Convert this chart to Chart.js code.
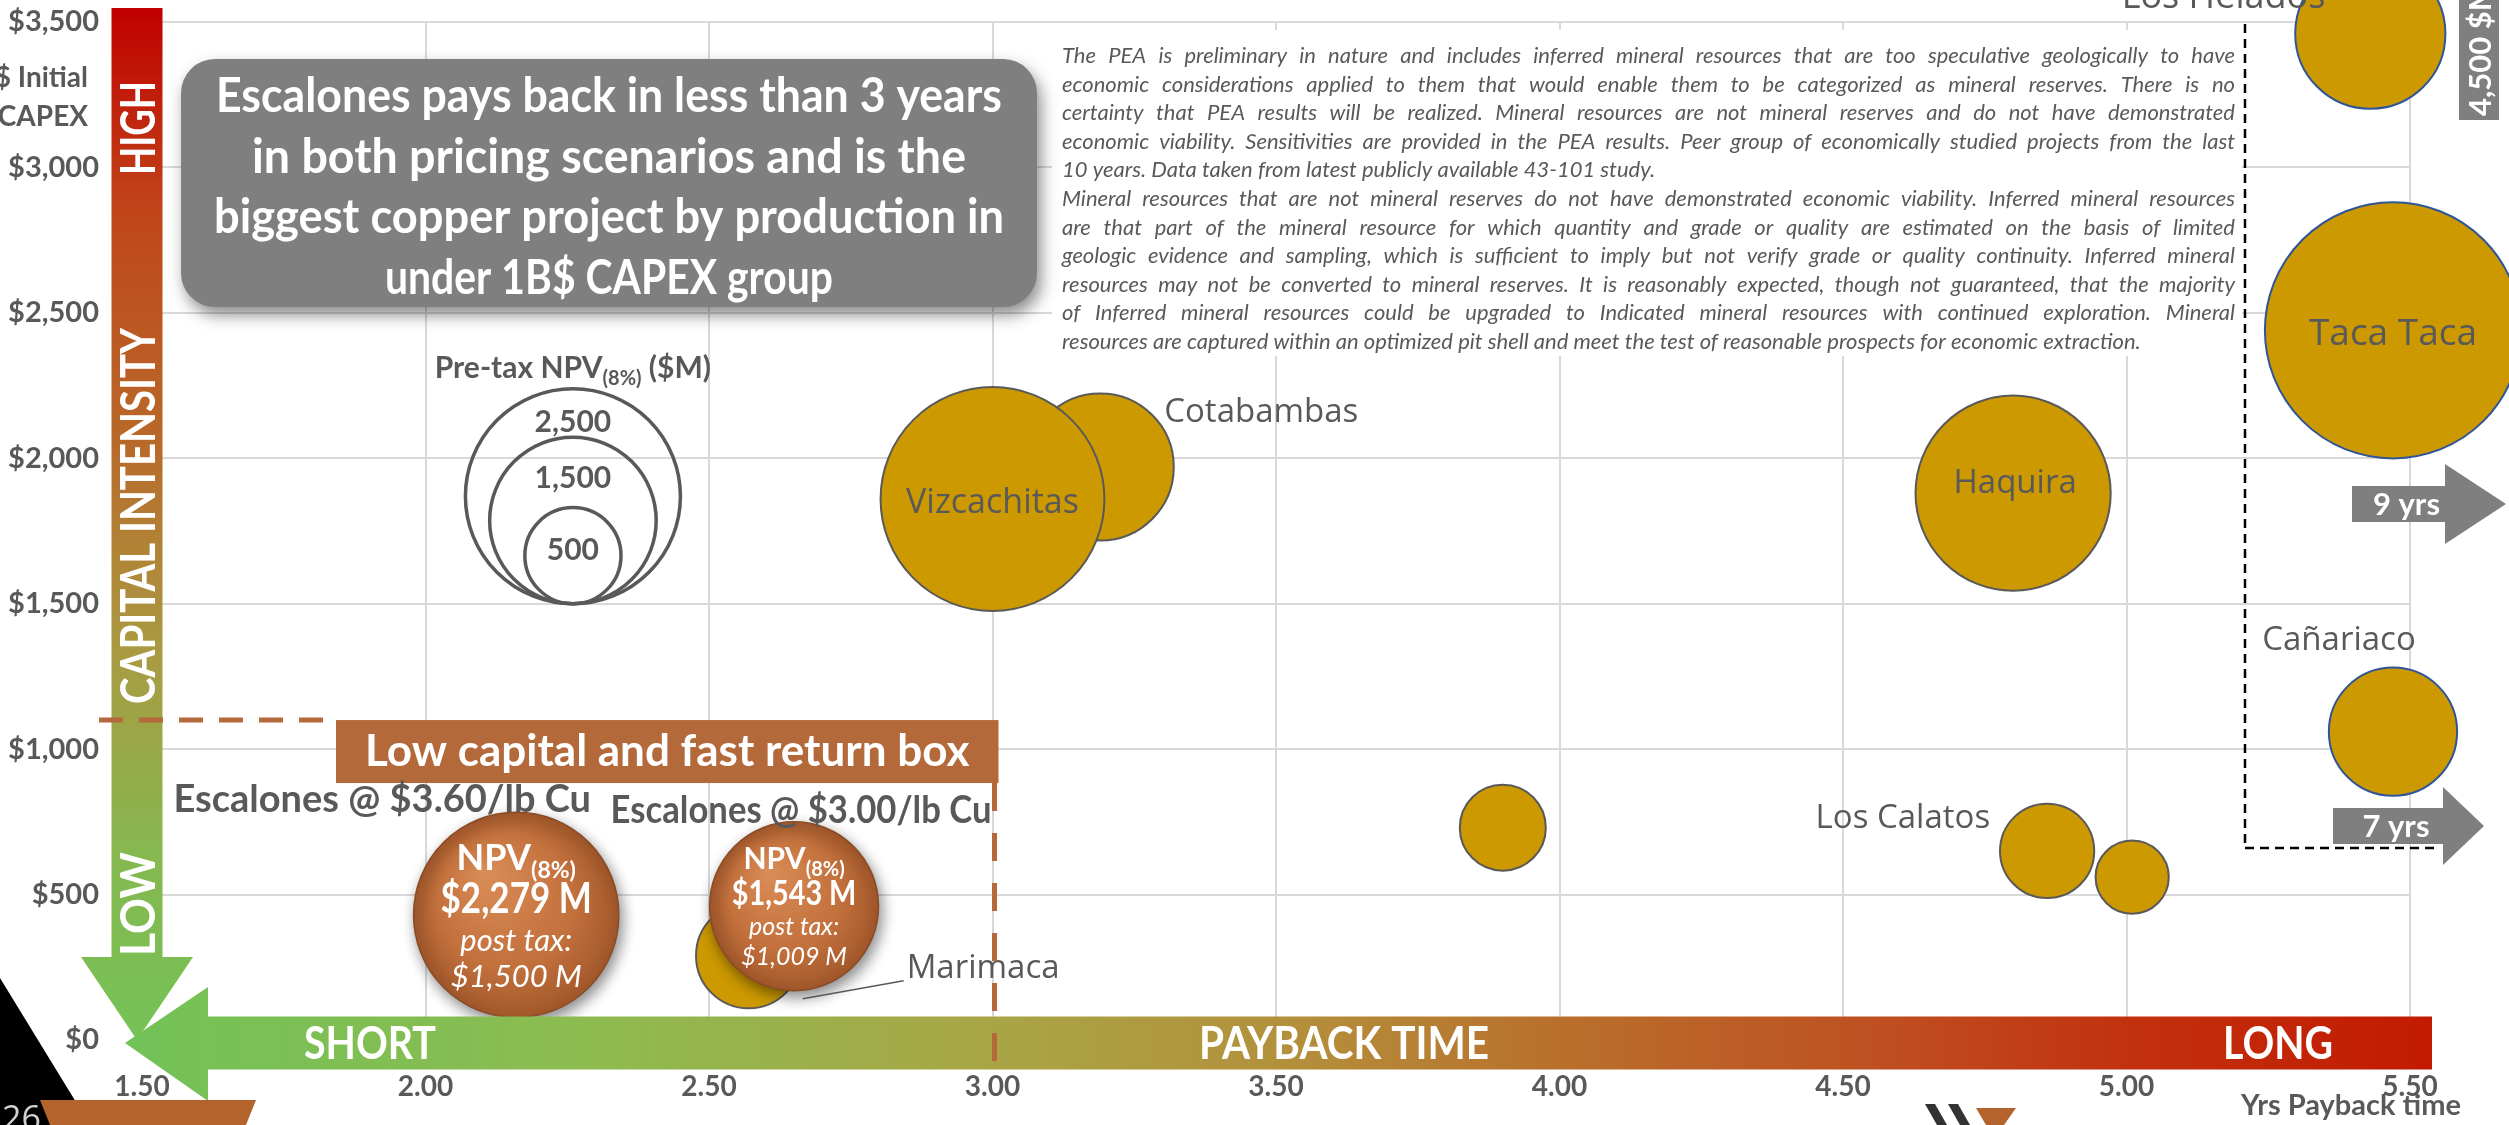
<!DOCTYPE html>
<html>
<head>
<meta charset="utf-8">
<script src="https://cdn.jsdelivr.net/npm/chart.js@4.4.1/dist/chart.umd.min.js"></script>
<style>
html, body { margin: 0; padding: 0; background: #fff; overflow: hidden; }
canvas { display: block; }
</style>
</head>
<body>
<canvas id="myChart" width="2509" height="1125"></canvas>
<script>
'use strict';

// Escalones scenarios: payback (yrs), initial capex ($M), pre-tax NPV8 ($M), post-tax NPV ($M)
const escalonesPrice = ['$3.60/lb Cu', '$3.00/lb Cu'];
const escalonesPayback = [2.16, 2.65];
const escalonesCapex = [430, 460];
const escalonesNpv = [2279, 1543];
const escalonesPostTax = [1500, 1009];

// peer group
const peerNames = ['Cotabambas', 'Vizcachitas', 'Haquira', '', 'Los Calatos', '', 'Marimaca'];
const peerPayback = [3.19, 3.00, 4.80, 3.90, 4.86, 5.01, 2.57];
const peerCapex = [1970, 1860, 1880, 730, 650, 560, 290];
const peerNpv = [1170, 2710, 2060, 400, 480, 290, 600];

// projects whose payback/capex runs off the scale
const farNames = ['Los Helados', 'Taca Taca', 'Cañariaco'];
const farPayback = [5.43, 5.47, 5.47];
const farCapex = [3460, 2440, 1060];
const farNpv = [1220, 3550, 890];
const farNotes = ['4,500 $M', '9 yrs', '7 yrs'];

const legendNpv = [2500, 1500, 500];
const xTickRange = [1.5, 5.5, 0.5];
const yTickRange = [0, 3500, 500];

const disclaimer = [
  'The PEA is preliminary in nature and includes inferred mineral resources that are too speculative geologically to have',
  'economic considerations applied to them that would enable them to be categorized as mineral reserves. There is no',
  'certainty that PEA results will be realized. Mineral resources are not mineral reserves and do not have demonstrated',
  'economic viability. Sensitivities are provided in the PEA results. Peer group of economically studied projects from the last',
  '10 years. Data taken from latest publicly available 43-101 study.',
  'Mineral resources that are not mineral reserves do not have demonstrated economic viability. Inferred mineral resources',
  'are that part of the mineral resource for which quantity and grade or quality are estimated on the basis of limited',
  'geologic evidence and sampling, which is sufficient to imply but not verify grade or quality continuity. Inferred mineral',
  'resources may not be converted to mineral reserves. It is reasonably expected, though not guaranteed, that the majority',
  'of Inferred mineral resources could be upgraded to Indicated mineral resources with continued exploration. Mineral',
  'resources are captured within an optimized pit shell and meet the test of reasonable prospects for economic extraction.'
];
const disclaimerLeftAligned = [4, 10];

const headline = [
  'Escalones pays back in less than 3 years',
  'in both pricing scenarios and is the',
  'biggest copper project by production in',
  'under 1B$ CAPEX group'
];

const GRAY = '#595959';
const BOLD = 'Lato, "DejaVu Sans", sans-serif';
const rOf = v => 2.15 * Math.sqrt(v);

function pts(xs, ys) { return xs.map((x, i) => ({ x: x, y: ys[i] })); }

function txt(ctx, s, x, y, font, color, align, w) {
  ctx.font = font;
  ctx.fillStyle = color;
  ctx.textAlign = align || 'center';
  ctx.textBaseline = 'middle';
  if (w) ctx.fillText(s, x, y, w); else ctx.fillText(s, x, y);
}

// "NPV(8%)" style text with subscript, centred on x
function subText(ctx, a, b, c, x, y, size, color) {
  ctx.fillStyle = color;
  ctx.textBaseline = 'alphabetic';
  ctx.textAlign = 'left';
  ctx.font = 'bold ' + size + 'px ' + BOLD;
  const wa = ctx.measureText(a).width, wc = ctx.measureText(c).width;
  ctx.font = 'bold ' + Math.round(size * 0.65) + 'px ' + BOLD;
  const wb = ctx.measureText(b).width;
  let cx = x - (wa + wb + wc) / 2;
  const base = y + size * 0.35;
  ctx.font = 'bold ' + size + 'px ' + BOLD;
  ctx.fillText(a, cx, base);
  cx += wa;
  ctx.font = 'bold ' + Math.round(size * 0.65) + 'px ' + BOLD;
  ctx.fillText(b, cx, base + size * 0.22);
  cx += wb;
  ctx.font = 'bold ' + size + 'px ' + BOLD;
  ctx.fillText(c, cx, base);
}

function justify(ctx, line, x, y, w) {
  const words = line.split(' ');
  const widths = words.map(wd => ctx.measureText(wd).width);
  const total = widths.reduce((s, v) => s + v, 0);
  const gap = (w - total) / (words.length - 1);
  if (gap < ctx.measureText(' ').width * 0.6) { ctx.fillText(line, x, y, w); return; }
  let cx = x;
  words.forEach((wd, i) => { ctx.fillText(wd, cx, y); cx += widths[i] + gap; });
}

function dashed(ctx, x1, y1, x2, y2, color, width, dash) {
  ctx.save();
  ctx.strokeStyle = color;
  ctx.lineWidth = width;
  ctx.setLineDash(dash);
  ctx.beginPath();
  ctx.moveTo(x1, y1);
  ctx.lineTo(x2, y2);
  ctx.stroke();
  ctx.restore();
}

function grayArrow(ctx, x1, x2, tip, yc, hb, hh, label) {
  ctx.fillStyle = '#7f7f7f';
  ctx.beginPath();
  ctx.moveTo(x1, yc - hb);
  ctx.lineTo(x2, yc - hb);
  ctx.lineTo(x2, yc - hh);
  ctx.lineTo(tip, yc);
  ctx.lineTo(x2, yc + hh);
  ctx.lineTo(x2, yc + hb);
  ctx.lineTo(x1, yc + hb);
  ctx.closePath();
  ctx.fill();
  txt(ctx, label, (x1 + x2) / 2 + 8, yc + 1, 'bold 31px ' + BOLD, '#fff');
}

function roundRect(ctx, x, y, w, h, r) {
  ctx.beginPath();
  ctx.moveTo(x + r, y);
  ctx.arcTo(x + w, y, x + w, y + h, r);
  ctx.arcTo(x + w, y + h, x, y + h, r);
  ctx.arcTo(x, y + h, x, y, r);
  ctx.arcTo(x, y, x + w, y, r);
  ctx.closePath();
}

const shadowPlugin = {
  id: 'shadow',
  beforeDatasetDraw(chart, args) {
    if (args.index !== 0) return;
    const ctx = chart.ctx;
    ctx.save();
    ctx.shadowColor = 'rgba(0,0,0,0.45)';
    ctx.shadowBlur = 14;
    ctx.shadowOffsetX = 3;
    ctx.shadowOffsetY = 6;
  },
  afterDatasetDraw(chart, args) {
    if (args.index === 0) chart.ctx.restore();
  }
};

const decoPlugin = {
  id: 'deco',
  beforeDraw(chart) {
    const ctx = chart.ctx;
    ctx.save();
    ctx.fillStyle = '#fff';
    ctx.fillRect(0, 0, chart.width, chart.height);
    ctx.restore();
  },
  beforeDatasetsDraw(chart) {
    const ctx = chart.ctx, xs = chart.scales.x, ys = chart.scales.y;
    ctx.save();
    // disclaimer panel
    ctx.fillStyle = '#fff';
    ctx.fillRect(1052, 30, 1190, 326);
    ctx.font = 'italic 22px Lato, "Open Sans", sans-serif';
    ctx.fillStyle = GRAY;
    ctx.textAlign = 'left';
    ctx.textBaseline = 'middle';
    disclaimer.forEach((line, i) => {
      const y = 56 + i * 28.6;
      if (disclaimerLeftAligned.indexOf(i) >= 0) ctx.fillText(line, 1062, y, 1173);
      else justify(ctx, line, 1062, y, 1173);
    });

    // dashed frame round the off-scale projects
    dashed(ctx, 2245, 24, 2245, 848, '#000', 2.5, [9, 6]);
    dashed(ctx, 2245, 848, 2440, 848, '#000', 2.5, [9, 6]);

    // NPV size legend
    const lx = xs.getPixelForValue(2.26), lb = ys.getPixelForValue(1500);
    legendNpv.forEach(v => {
      const r = rOf(v);
      ctx.beginPath();
      ctx.arc(lx, lb - r, r, 0, Math.PI * 2);
      ctx.strokeStyle = GRAY;
      ctx.lineWidth = 3.5;
      ctx.stroke();
    });
    subText(ctx, 'Pre-tax NPV', '(8%)', ' ($M)', lx, lb - 236, 30, GRAY);
    txt(ctx, legendNpv[0].toLocaleString('en-US'), lx, lb - 181, 'bold 30px ' + BOLD, GRAY);
    txt(ctx, legendNpv[1].toLocaleString('en-US'), lx, lb - 125, 'bold 30px ' + BOLD, GRAY);
    txt(ctx, legendNpv[2].toLocaleString('en-US'), lx, lb - 53, 'bold 30px ' + BOLD, GRAY);
    ctx.restore();
  },
  afterDatasetsDraw(chart) {
    const ctx = chart.ctx, area = chart.chartArea;
    const xs = chart.scales.x, ys = chart.scales.y;
    const esc = chart.getDatasetMeta(0).data;
    const peer = chart.getDatasetMeta(1).data;
    const far = chart.getDatasetMeta(2).data;
    const x0 = area.left, y0 = area.bottom;
    ctx.save();

    // bubble labels
    const lab = '33px "Open Sans", sans-serif';
    txt(ctx, peerNames[0], peer[0].x + 64, peer[0].y - 54, lab, GRAY, 'left');
    txt(ctx, peerNames[1], peer[1].x, peer[1].y + 4, '34px "Open Sans", sans-serif', GRAY);
    txt(ctx, peerNames[2], peer[2].x + 2, peer[2].y - 10, lab, GRAY);
    txt(ctx, peerNames[4], peer[4].x - 57, peer[4].y - 32, lab, GRAY, 'right');
    txt(ctx, farNames[0], far[0].x - 45, far[0].y - 36, '36px "Open Sans", sans-serif', GRAY, 'right');
    txt(ctx, farNames[1], far[1].x, far[1].y + 4, '37px "Open Sans", sans-serif', GRAY);
    txt(ctx, farNames[2], far[2].x - 54, far[2].y - 91, lab, GRAY);

    // Marimaca leader
    const m = peer[6];
    ctx.strokeStyle = GRAY;
    ctx.lineWidth = 1.5;
    ctx.beginPath();
    ctx.moveTo(m.x + 54, m.y + 43);
    ctx.lineTo(m.x + 155, m.y + 25);
    ctx.stroke();
    txt(ctx, peerNames[6], m.x + 158, m.y + 13, lab, GRAY, 'left');

    // capital intensity arrow (vertical)
    const cx = x0 - 5;
    let g = ctx.createLinearGradient(0, 8, 0, y0);
    g.addColorStop(0, '#c00000');
    g.addColorStop(0.2, '#c0461a');
    g.addColorStop(0.42, '#b8692a');
    g.addColorStop(0.62, '#aa9a42');
    g.addColorStop(0.82, '#86b850');
    g.addColorStop(1, '#74c256');
    ctx.fillStyle = g;
    ctx.beginPath();
    ctx.moveTo(cx - 25.5, 8);
    ctx.lineTo(cx + 25.5, 8);
    ctx.lineTo(cx + 25.5, y0 - 83);
    ctx.lineTo(cx + 56, y0 - 83);
    ctx.lineTo(cx, y0);
    ctx.lineTo(cx - 56, y0 - 83);
    ctx.lineTo(cx - 25.5, y0 - 83);
    ctx.closePath();
    ctx.fill();
    [['HIGH', 128, 94], ['CAPITAL INTENSITY', 516, 376], ['LOW', 904, 104]].forEach(t => {
      ctx.save();
      ctx.translate(cx + 3, t[1]);
      ctx.rotate(-Math.PI / 2);
      txt(ctx, t[0], 0, 0, 'bold 47px ' + BOLD, '#fff', 'center', t[2]);
      ctx.restore();
    });

    // payback time arrow (horizontal)
    const hy = y0 + 3, hb = 26.5;
    g = ctx.createLinearGradient(125, 0, 2432, 0);
    g.addColorStop(0, '#72c257');
    g.addColorStop(0.2, '#8dbb50');
    g.addColorStop(0.37, '#a8a646');
    g.addColorStop(0.5, '#b3913c');
    g.addColorStop(0.62, '#b9702c');
    g.addColorStop(0.75, '#be5222');
    g.addColorStop(0.87, '#c2310f');
    g.addColorStop(1, '#c21a00');
    ctx.fillStyle = g;
    ctx.beginPath();
    ctx.moveTo(x0 - 17, hy);
    ctx.lineTo(208, hy - 56);
    ctx.lineTo(208, hy - hb);
    ctx.lineTo(area.right + 22, hy - hb);
    ctx.lineTo(area.right + 22, hy + hb);
    ctx.lineTo(208, hy + hb);
    ctx.lineTo(208, hy + 58);
    ctx.closePath();
    ctx.fill();
    txt(ctx, 'SHORT', 370, hy + 1, 'bold 46px ' + BOLD, '#fff', 'center', 132);
    txt(ctx, 'PAYBACK TIME', 1344, hy + 1, 'bold 46px ' + BOLD, '#fff', 'center', 290);
    txt(ctx, 'LONG', 2278, hy + 1, 'bold 46px ' + BOLD, '#fff', 'center', 110);

    // low capital / fast return box
    const bx = xs.getPixelForValue(3.0), by = ys.getPixelForValue(1100);
    ctx.fillStyle = '#b4693a';
    ctx.fillRect(336, by, bx + 6 - 336, 63);
    txt(ctx, 'Low capital and fast return box', (336 + bx + 6) / 2, by + 32, 'bold 44px ' + BOLD, '#fff', 'center', 620);
    dashed(ctx, 99, by, 336, by, '#b4693a', 5, [24, 16]);
    dashed(ctx, bx + 2, by + 63, bx + 2, y0 + 24, '#b4693a', 5, [28, 22]);

    // Escalones headers + NPV text inside the bubbles
    const hdr = 'bold 38px ' + BOLD;
    txt(ctx, 'Escalones @ ' + escalonesPrice[0], esc[0].x - 134, esc[0].y - 115, hdr, GRAY, 'center', 422);
    txt(ctx, 'Escalones @ ' + escalonesPrice[1], esc[1].x + 7, esc[1].y - 95, hdr, GRAY, 'center', 381);
    esc.forEach((el, i) => {
      const r = rOf(escalonesNpv[i]), f = r / 103;
      subText(ctx, 'NPV', '(8%)', '', el.x, el.y - r * 0.56, Math.round(36 * f), '#fff');
      txt(ctx, '$' + escalonesNpv[i].toLocaleString('en-US') + ' M', el.x, el.y - r * 0.15,
        'bold ' + Math.round(42 * f) + 'px ' + BOLD, '#fff', 'center', 152 * f);
      txt(ctx, 'post tax:', el.x, el.y + r * 0.25, 'italic ' + Math.round(31 * f) + 'px ' + BOLD, '#fff');
      txt(ctx, '$' + escalonesPostTax[i].toLocaleString('en-US') + ' M', el.x, el.y + r * 0.6,
        'italic ' + Math.round(31 * f) + 'px ' + BOLD, '#fff');
    });

    // headline box
    ctx.save();
    ctx.shadowColor = 'rgba(0,0,0,0.45)';
    ctx.shadowBlur = 16;
    ctx.shadowOffsetX = 4;
    ctx.shadowOffsetY = 8;
    ctx.fillStyle = '#7f7f7f';
    roundRect(ctx, 181, 59, 856, 248, 34);
    ctx.fill();
    ctx.restore();
    const hw = [786, 714, 790, 448];
    headline.forEach((line, i) => {
      txt(ctx, line, 609, 97 + i * 60.5, 'bold 47px ' + BOLD, '#fff', 'center', hw[i]);
    });

    // off-scale markers
    ctx.fillStyle = '#7f7f7f';
    ctx.fillRect(2459, 0, 40, 120);
    ctx.save();
    ctx.translate(2481, 116);
    ctx.rotate(-Math.PI / 2);
    txt(ctx, farNotes[0], 0, 0, 'bold 31px ' + BOLD, '#fff', 'left');
    ctx.restore();
    grayArrow(ctx, 2352, 2445, 2506, 504, 18, 40, farNotes[1]);
    grayArrow(ctx, 2333, 2443, 2484, 826, 18, 39, farNotes[2]);

    // axis titles
    txt(ctx, '$ Initial', 88, 78, 'bold 28px ' + BOLD, GRAY, 'right');
    txt(ctx, 'CAPEX', 88, 117, 'bold 28px ' + BOLD, GRAY, 'right');
    txt(ctx, 'Yrs Payback time', 2461, 1106, 'bold 29px ' + BOLD, GRAY, 'right');

    // slide furniture
    ctx.fillStyle = '#000';
    ctx.beginPath();
    ctx.moveTo(0, 978);
    ctx.lineTo(90, 1125);
    ctx.lineTo(0, 1125);
    ctx.closePath();
    ctx.fill();
    txt(ctx, '26', 2, 1120, '34px "Open Sans", sans-serif', '#d0d0d0', 'left');
    ctx.fillStyle = '#b4632d';
    ctx.beginPath();
    ctx.moveTo(40, 1100);
    ctx.lineTo(256, 1100);
    ctx.lineTo(246, 1125);
    ctx.lineTo(50, 1125);
    ctx.closePath();
    ctx.fill();
    ctx.fillStyle = '#333';
    [[1925, 1104], [1948, 1104]].forEach(p => {
      ctx.beginPath();
      ctx.moveTo(p[0], p[1]);
      ctx.lineTo(p[0] + 10, p[1]);
      ctx.lineTo(p[0] + 22, 1125);
      ctx.lineTo(p[0] + 12, 1125);
      ctx.closePath();
      ctx.fill();
    });
    ctx.fillStyle = '#b4632d';
    ctx.beginPath();
    ctx.moveTo(1976, 1108);
    ctx.lineTo(2016, 1108);
    ctx.lineTo(2004, 1125);
    ctx.lineTo(1986, 1125);
    ctx.closePath();
    ctx.fill();
    ctx.restore();
  }
};

function orangeFill(c) {
  const ch = c.chart;
  if (c.type !== 'data' || !ch.chartArea) return '#c0703a';
  const x = ch.scales.x.getPixelForValue(c.raw.x);
  const y = ch.scales.y.getPixelForValue(c.raw.y);
  const r = rOf(escalonesNpv[c.dataIndex]);
  const g = ch.ctx.createRadialGradient(x - r * 0.3, y - r * 0.4, r * 0.05, x, y, r);
  g.addColorStop(0, '#d98b55');
  g.addColorStop(0.65, '#c2703c');
  g.addColorStop(1, '#a3582b');
  return g;
}

const ctx = document.getElementById('myChart');

const myChart = new Chart(ctx, {
  type: 'bubble',
  data: {
    datasets: [{
      label: 'Escalones',
      data: pts(escalonesPayback, escalonesCapex),
      radius: c => rOf(escalonesNpv[c.dataIndex] || 0),
      backgroundColor: orangeFill,
      borderColor: '#8a4b26',
      borderWidth: 1.5,
      clip: false
    }, {
      label: 'Peers',
      data: pts(peerPayback, peerCapex),
      radius: c => rOf(peerNpv[c.dataIndex] || 0),
      backgroundColor: '#cc9900',
      borderColor: GRAY,
      borderWidth: 2,
      clip: false
    }, {
      label: 'Off scale',
      data: pts(farPayback, farCapex),
      radius: c => rOf(farNpv[c.dataIndex] || 0),
      backgroundColor: '#cc9900',
      borderColor: '#2f5597',
      borderWidth: 2,
      clip: false
    }]
  },
  options: {
    responsive: false,
    devicePixelRatio: 1,
    animation: false,
    events: [],
    layout: { autoPadding: false, padding: { top: 22, right: 99, left: 0, bottom: 0 } },
    plugins: { legend: { display: false }, tooltip: { enabled: false } },
    scales: {
      x: {
        type: 'linear',
        min: xTickRange[0], max: xTickRange[1],
        afterFit: s => { s.height = 85; s.paddingLeft = 0; s.paddingRight = 0; },
        border: { display: false },
        grid: { color: '#d9d9d9', lineWidth: 2, drawTicks: false },
        ticks: {
          stepSize: xTickRange[2],
          padding: 30,
          color: GRAY,
          font: { family: BOLD, size: 28, weight: 'bold' },
          callback: v => v.toFixed(2)
        }
      },
      y: {
        min: yTickRange[0], max: yTickRange[1],
        afterFit: s => { s.width = 142; s.paddingTop = 0; s.paddingBottom = 0; },
        border: { display: false },
        grid: { color: '#d9d9d9', lineWidth: 2, drawTicks: false },
        ticks: {
          stepSize: yTickRange[2],
          padding: 43,
          color: GRAY,
          font: { family: BOLD, size: 29, weight: 'bold' },
          callback: v => '$' + v.toLocaleString('en-US')
        }
      }
    }
  },
  plugins: [shadowPlugin, decoPlugin]
});
</script>
</body>
</html>
